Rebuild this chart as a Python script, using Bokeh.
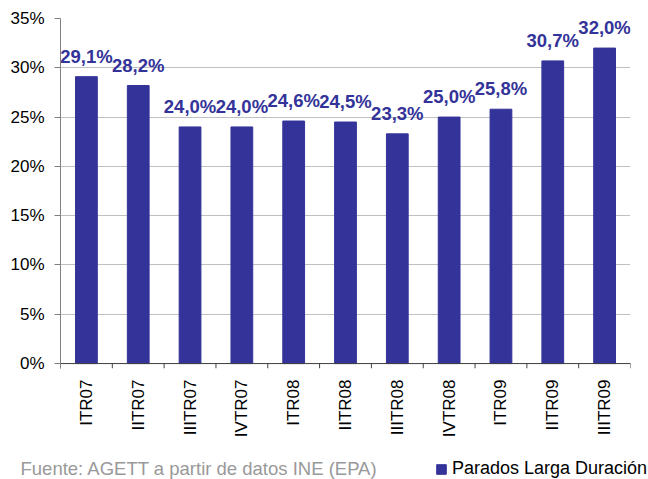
import math
from bokeh.plotting import figure
from bokeh.layouts import column
from bokeh.models import (ColumnDataSource, FixedTicker, Legend, LegendItem, Range1d)
from bokeh.core.properties import value
from bokeh.embed import file_html
from bokeh.resources import INLINE

# ---- data ----
categories = ["ITR07", "IITR07", "IIITR07", "IVTR07", "ITR08", "IITR08",
              "IIITR08", "IVTR08", "ITR09", "IITR09", "IIITR09"]
values = [29.1, 28.2, 24.0, 24.0, 24.6, 24.5, 23.3, 25.0, 25.8, 30.7, 32.0]
y_ticks = [0, 5, 10, 15, 20, 25, 30, 35]
y_tick_labels = ["0%", "5%", "10%", "15%", "20%", "25%", "30%", "35%"]
series_name = "Parados Larga Duración"
source_text = "Fuente: AGETT a partir de datos INE (EPA)"

BAR = "#333399"
FONT = "Liberation Sans"
NARROW = "'Liberation Sans Narrow', 'Arial Narrow', 'Liberation Sans'"

labels = [f"{v:.1f}%".replace(".", ",") for v in values]
src = ColumnDataSource(dict(cat=categories, val=values, lab=labels))

p = figure(x_range=categories, y_range=(-0.5, 35),
           width=640, height=440, output_backend="svg", toolbar_location=None,
           min_border_left=60, min_border_right=10, min_border_top=18,
           min_border_bottom=70)
p.outline_line_color = None
p.background_fill_color = "white"
p.border_fill_color = "white"

# grid
p.xgrid.visible = False
p.ygrid.ticker = FixedTicker(ticks=y_ticks)
p.ygrid.grid_line_color = "#c0c0c0"
p.ygrid.grid_line_width = 1

# y axis
p.yaxis.ticker = FixedTicker(ticks=y_ticks)
p.yaxis.major_label_overrides = {t: l for t, l in zip(y_ticks, y_tick_labels)}
p.yaxis.axis_line_color = "#808080"
p.yaxis.major_tick_line_color = "#808080"
p.yaxis.major_tick_out = 6
p.yaxis.major_tick_in = 0
p.yaxis.minor_tick_line_color = None
p.yaxis.major_label_text_font = FONT
p.yaxis.major_label_text_font_size = "17px"
p.yaxis.major_label_text_color = "black"
p.yaxis.major_label_standoff = 10

# x axis (labels only; line & boundary ticks drawn as glyphs)
p.xaxis.axis_line_color = None
p.xaxis.major_tick_line_color = None
p.xaxis.minor_tick_line_color = None
p.xaxis.major_label_orientation = math.pi / 2
p.xaxis.major_label_text_font = FONT
p.xaxis.major_label_text_font_size = "17px"
p.xaxis.major_label_text_color = "black"
p.xaxis.major_label_standoff = 5

# bars
bars = p.vbar(x="cat", top="val", width=0.42, source=src,
              fill_color=BAR, line_color=BAR)

# x axis line and tick marks at category boundaries
n = len(categories)
p.segment(x0=[0], x1=[n], y0=[0], y1=[0], line_color="#404040", line_width=1)
bounds = list(range(n + 1))
p.segment(x0=bounds, x1=bounds, y0=[0] * (n + 1), y1=[-0.5] * (n + 1),
          line_color="#404040", line_width=1)

# value labels
p.text(x="cat", y="val", text="lab", source=src, y_offset=-10,
       text_align="center", text_baseline="bottom",
       text_font=value(NARROW), text_font_style="bold",
       text_font_size="18.5px", text_color=BAR)

# ---- footer strip: source note + legend ----
FW, FH = 648, 39
f = figure(width=FW, height=FH, output_backend="svg", toolbar_location=None,
           x_range=Range1d(0, FW), y_range=Range1d(0, FH),
           min_border=0, x_axis_type=None, y_axis_type=None)
f.frame_align = False
f.outline_line_color = None
f.grid.visible = False
f.text(x=[20], y=[11], text=[source_text], text_font=value(FONT),
       text_font_size="18.5px", text_color="#999999", text_baseline="alphabetic")
dummy = f.rect(x=[-100], y=[-100], width=1, height=1, fill_color=BAR, line_color=BAR)
legend = Legend(items=[LegendItem(label=series_name, renderers=[dummy])],
                location=(435, 0), padding=0, margin=0,
                border_line_color=None, background_fill_alpha=0,
                glyph_width=12, glyph_height=12, label_standoff=5,
                label_height=12,
                label_text_font=FONT, label_text_font_size="18px",
                label_text_color="black")
f.add_layout(legend, "center")

open("out.html", "w").write(file_html(column(p, f, spacing=0), INLINE))
